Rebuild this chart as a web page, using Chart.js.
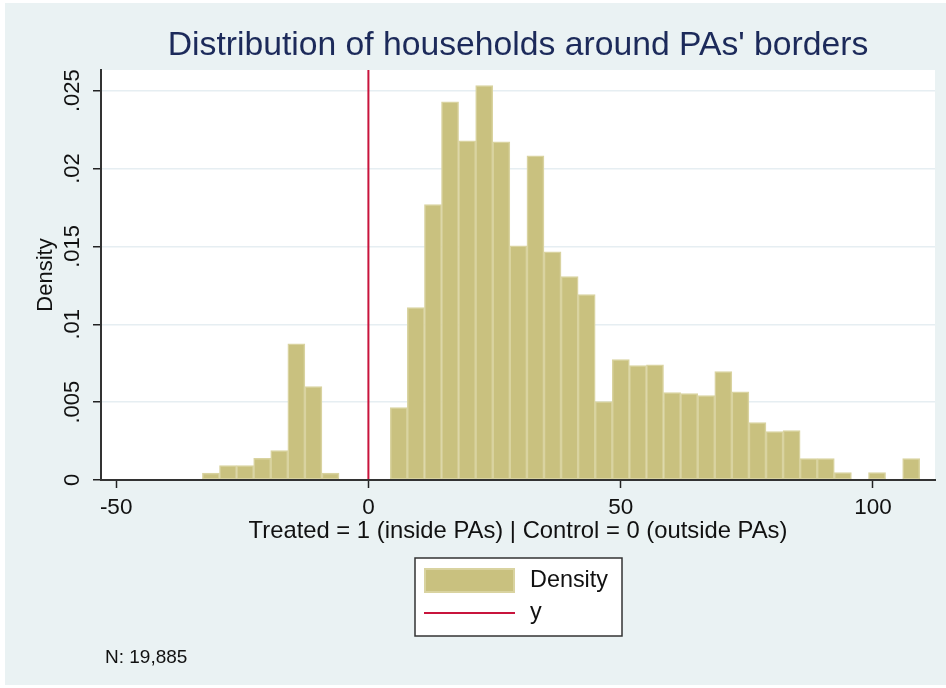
<!DOCTYPE html>
<html>
<head>
<meta charset="utf-8">
<title>Distribution of households around PAs' borders</title>
<script src="https://cdn.jsdelivr.net/npm/chart.js@4.4.1/dist/chart.umd.min.js"></script>
<style>
  html, body { margin: 0; padding: 0; background: #ffffff; }
  #wrap { width: 946px; height: 688px; }
</style>
</head>
<body>
<div id="wrap"><canvas id="histChart" width="946" height="688"></canvas></div>
<script>
// histogram bins (midpoints, distance to border) and their densities
const binMid = [-31.21, -27.82, -24.44, -21.05, -17.67, -14.28, -10.90, -7.51, -4.13, -0.74,
    2.64, 6.03, 9.41, 12.80, 16.18, 19.57, 22.95, 26.34, 29.72, 33.11,
    36.49, 39.88, 43.26, 46.65, 50.03, 53.42, 56.80, 60.19, 63.57, 66.96,
    70.34, 73.73, 77.11, 80.50, 83.88, 87.27, 90.65, 94.04, 97.42, 100.81,
    104.19, 107.58];
const density = [0.00045, 0.00092, 0.00092, 0.00139, 0.00189, 0.00875, 0.00600, 0.00045, 0, 0,
    0, 0.00465, 0.01107, 0.01768, 0.02429, 0.02178, 0.02533, 0.02172, 0.01504, 0.02082,
    0.01466, 0.01306, 0.01190, 0.00503, 0.00773, 0.00734, 0.00740, 0.00561, 0.00555, 0.00542,
    0.00696, 0.00567, 0.00368, 0.00311, 0.00317, 0.00137, 0.00137, 0.00047, 0, 0.00047,
    0, 0.00137];

// vertical cutoff line at the border
const lineX = [0, 0];
const lineY = [0, 0.02633];

const xTicks = [-50, 0, 50, 100];
const yTicks = [0, 0.005, 0.01, 0.015, 0.02, 0.025];
const yTickLabels = ['0', '.005', '.01', '.015', '.02', '.025'];
const xMin = -53;
const xMax = 112.3;
const yMax = 0.02633;

const fontFamily = '"Liberation Sans", Arial, Helvetica, sans-serif';
const barFill = 'rgb(201, 193, 127)';
const barEdge = 'rgb(217, 211, 160)';
const lineColor = '#c8143c';

// background, labels and legend box drawn around the chart area
const stataFrame = {
    id: 'stataFrame',
    beforeDraw(chart) {
        const ctx = chart.ctx;
        const area = chart.chartArea;
        ctx.save();
        ctx.fillStyle = '#ffffff';
        ctx.fillRect(0, 0, chart.width, chart.height);
        ctx.fillStyle = '#eaf2f3';
        ctx.fillRect(5, 3, chart.width - 5, 682);
        ctx.fillStyle = '#ffffff';
        ctx.fillRect(area.left, area.top, area.right - area.left, area.bottom - area.top);
        ctx.restore();
    },
    afterDraw(chart) {
        const ctx = chart.ctx;
        const area = chart.chartArea;
        const yScale = chart.scales.y;
        const midX = (area.left + area.right) / 2;
        ctx.save();

        // title
        ctx.fillStyle = '#1c2a5a';
        ctx.font = '33.7px ' + fontFamily;
        ctx.textAlign = 'center';
        ctx.textBaseline = 'middle';
        ctx.fillText("Distribution of households around PAs' borders", midX, 46);

        // x axis title
        ctx.fillStyle = '#111111';
        ctx.font = '23.8px ' + fontFamily;
        ctx.fillText('Treated = 1 (inside PAs) | Control = 0 (outside PAs)', midX, 531);

        // y tick labels, rotated like the axis title
        ctx.font = '22px ' + fontFamily;
        yTicks.forEach((v, i) => {
            const py = yScale.getPixelForValue(v);
            ctx.save();
            ctx.translate(73, py);
            ctx.rotate(-Math.PI / 2);
            ctx.fillText(yTickLabels[i], 0, 0);
            ctx.restore();
        });

        // y axis title
        ctx.save();
        ctx.translate(46, 275);
        ctx.rotate(-Math.PI / 2);
        ctx.fillText('Density', 0, 0);
        ctx.restore();

        // legend box
        ctx.fillStyle = '#ffffff';
        ctx.fillRect(415, 558, 207, 78);
        ctx.strokeStyle = '#333333';
        ctx.lineWidth = 1.5;
        ctx.strokeRect(415, 558, 207, 78);

        ctx.fillStyle = barEdge;
        ctx.fillRect(424, 568, 91, 25);
        ctx.fillStyle = barFill;
        ctx.fillRect(426, 570, 87, 21);

        ctx.strokeStyle = lineColor;
        ctx.lineWidth = 2;
        ctx.beginPath();
        ctx.moveTo(424, 613);
        ctx.lineTo(515, 613);
        ctx.stroke();

        ctx.fillStyle = '#111111';
        ctx.textAlign = 'left';
        ctx.font = '23.4px ' + fontFamily;
        ctx.fillText('Density', 530, 581);
        ctx.fillText('y', 530, 613);

        // sample size note
        ctx.font = '19px ' + fontFamily;
        ctx.fillText('N: 19,885', 105, 658);
        ctx.restore();
    }
};

new Chart(document.getElementById('histChart'), {
    type: 'bar',
    data: {
        datasets: [{
            type: 'line',
            label: 'y',
            data: lineX.map((x, i) => ({ x: x, y: lineY[i] })),
            borderColor: lineColor,
            borderWidth: 2,
            pointRadius: 0,
            fill: false,
            order: 0
        }, {
            type: 'bar',
            label: 'Density',
            data: binMid.map((x, i) => ({ x: x, y: density[i] })),
            backgroundColor: barFill,
            borderColor: barEdge,
            borderWidth: 1.5,
            borderSkipped: false,
            barPercentage: 1,
            categoryPercentage: 1,
            order: 1
        }]
    },
    options: {
        responsive: false,
        animation: false,
        devicePixelRatio: 1,
        layout: { padding: { left: 0, top: 70, right: 11, bottom: 0 } },
        plugins: {
            legend: { display: false },
            tooltip: { enabled: false }
        },
        scales: {
            x: {
                type: 'linear',
                min: xMin,
                max: xMax,
                offset: false,
                afterBuildTicks: scale => { scale.ticks = xTicks.map(v => ({ value: v })); },
                afterFit: scale => { scale.height = 208; },
                grid: {
                    offset: false,
                    drawOnChartArea: false,
                    tickLength: 8,
                    tickColor: '#222222',
                    tickWidth: 1.5
                },
                border: { color: '#333333', width: 2, z: 1 },
                ticks: {
                    color: '#111111',
                    font: { family: fontFamily, size: 22.5 },
                    padding: 6,
                    maxRotation: 0,
                    autoSkip: false,
                    callback: v => String(v)
                }
            },
            y: {
                min: 0,
                max: yMax,
                afterBuildTicks: scale => { scale.ticks = yTicks.map(v => ({ value: v })); },
                afterFit: scale => { scale.width = 101; },
                grid: {
                    color: '#e6eef2',
                    lineWidth: 1.5,
                    tickLength: 8,
                    tickColor: '#222222',
                    tickWidth: 1.5
                },
                border: { color: '#333333', width: 2, z: 1 },
                ticks: { display: false }
            }
        }
    },
    plugins: [stataFrame]
});
</script>
</body>
</html>
